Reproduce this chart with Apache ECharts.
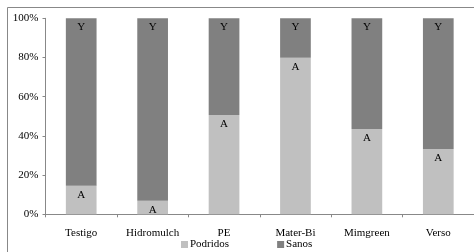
<!DOCTYPE html>
<html>
<head>
<meta charset="utf-8">
<script src="https://cdn.jsdelivr.net/npm/echarts@6/dist/echarts.min.js"></script>
<style>html,body{margin:0;padding:0;background:#fff}#c{width:474px;height:252px}</style>
</head>
<body>
<div id="c"></div>
<script>
var categories = ['Testigo', 'Hidromulch', 'PE', 'Mater-Bi', 'Mimgreen', 'Verso'];
var podridos = [14.6, 6.9, 50.7, 79.9, 43.5, 33.3];
var sanos = [85.4, 93.1, 49.3, 20.1, 56.5, 66.7];
var podridosLetters = ['A', 'A', 'A', 'A', 'A', 'A'];
var sanosLetters = ['Y', 'Y', 'Y', 'Y', 'Y', 'Y'];
var yTicks = [0, 20, 40, 60, 80, 100];

var font = '"Liberation Serif", "Times New Roman", serif';
var chart = echarts.init(document.getElementById('c'), null, {renderer: 'canvas'});
chart.setOption({
  animation: false,
  textStyle: {fontFamily: font},
  grid: {left: 45.5, right: -7, top: 18.3, bottom: 37.7, containLabel: false},
  legend: {
    top: 239, left: 181, padding: 0,
    itemWidth: 7, itemHeight: 7, itemGap: 48,
    icon: 'rect',
    textStyle: {fontFamily: font, fontSize: 11, color: '#000', padding: [0, 0, 0, -3]},
    data: ['Podridos', 'Sanos']
  },
  xAxis: {
    type: 'category', data: categories,
    axisLine: {lineStyle: {color: '#888', width: 1}},
    axisTick: {show: true, length: 3, lineStyle: {color: '#888'}},
    axisLabel: {fontFamily: font, fontSize: 11, color: '#000', margin: 13}
  },
  yAxis: {
    type: 'value', min: 0, max: 100, interval: 20,
    splitLine: {show: false},
    axisLine: {show: true, lineStyle: {color: '#888', width: 1}},
    axisTick: {show: true, length: 3, lineStyle: {color: '#888'}},
    axisLabel: {fontFamily: font, fontSize: 11, color: '#000', margin: 7,
      formatter: function (v) { return yTicks.indexOf(v) >= 0 ? v + '%' : ''; }}
  },
  graphic: [
    {type: 'line', shape: {x1: 7.5, y1: 7.5, x2: 474, y2: 7.5}, style: {stroke: '#888', lineWidth: 1}},
    {type: 'line', shape: {x1: 7.5, y1: 7.5, x2: 7.5, y2: 252}, style: {stroke: '#888', lineWidth: 1}}
  ],
  series: [
    {
      name: 'Podridos', type: 'bar', stack: 's', barWidth: '43%',
      itemStyle: {color: '#C0C0C0'},
      label: {show: true, position: 'insideTop', distance: 4, fontFamily: font, fontSize: 11, color: '#000',
        formatter: function (p) { return podridosLetters[p.dataIndex]; }},
      data: podridos
    },
    {
      name: 'Sanos', type: 'bar', stack: 's', barWidth: '43%',
      itemStyle: {color: '#808080'},
      label: {show: true, position: 'insideTop', distance: 3, fontFamily: font, fontSize: 11, color: '#000',
        formatter: function (p) { return sanosLetters[p.dataIndex]; }},
      data: sanos
    }
  ]
});
</script>
</body>
</html>
